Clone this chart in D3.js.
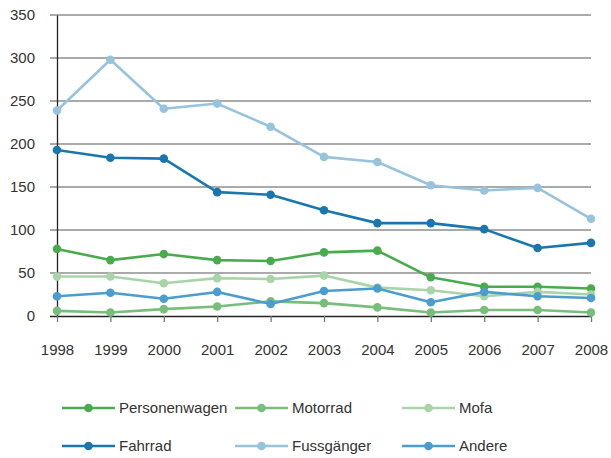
<!DOCTYPE html>
<html>
<head>
<meta charset="utf-8">
<script src="https://cdn.jsdelivr.net/npm/d3@7"></script>
<style>
  html, body { margin: 0; padding: 0; background: #fff; }
  svg { display: block; font-family: "Liberation Sans", Arial, sans-serif; }
</style>
</head>
<body>
<svg id="chart" width="611" height="458"></svg>
<script>
// Jahre und Werte je Verkehrsteilnehmer
const years = [1998, 1999, 2000, 2001, 2002, 2003, 2004, 2005, 2006, 2007, 2008];
const yTicks = [0, 50, 100, 150, 200, 250, 300, 350];

const personenwagen = [78, 65, 72, 65, 64, 74, 76, 45, 34, 34, 32];
const motorrad      = [6, 4, 8, 11, 17, 15, 10, 4, 7, 7, 4];
const mofa          = [46, 46, 38, 44, 43, 47, 33, 30, 23, 28, 25];
const fahrrad       = [193, 184, 183, 144, 141, 123, 108, 108, 101, 79, 85];
const fussgaenger   = [239, 298, 241, 247, 220, 185, 179, 152, 146, 149, 113];
const andere        = [23, 27, 20, 28, 14, 29, 32, 16, 28, 23, 21];

const seriesNames  = ["Personenwagen", "Motorrad", "Mofa", "Fahrrad", "Fussgänger", "Andere"];
const seriesValues = [personenwagen, motorrad, mofa, fahrrad, fussgaenger, andere];
const seriesColors = ["#4aab4e", "#78bd7a", "#a9d4a8", "#1a77ae", "#97c3dc", "#4b9ccf"];

const series = seriesNames.map((name, i) => ({ name, values: seriesValues[i], color: seriesColors[i] }));

// Zeichenreihenfolge: hintere Linien zuerst
const drawOrder = ["Fussgänger", "Fahrrad", "Personenwagen", "Mofa", "Motorrad", "Andere"];

const svg = d3.select("#chart");
const plotLeft = 57, plotRight = 591, plotTop = 15, plotBottom = 316;

const x = d3.scalePoint().domain(years).range([plotLeft, plotRight]);
const y = d3.scaleLinear().domain([0, 350]).range([plotBottom, plotTop]);

// Gitterlinien
svg.append("g")
  .selectAll("line")
  .data(yTicks.filter(t => t > 0))
  .join("line")
  .attr("x1", plotLeft - 7).attr("x2", plotRight)
  .attr("y1", d => y(d)).attr("y2", d => y(d))
  .attr("stroke", "#8e8e8e").attr("stroke-width", 1.3);

// y-Achse
const yAxis = svg.append("g")
  .attr("transform", `translate(${plotLeft},0)`)
  .call(d3.axisLeft(y).tickValues(yTicks).tickSize(0).tickPadding(22));
yAxis.select(".domain").attr("stroke", "#222").attr("stroke-width", 1.3);
yAxis.selectAll("text").attr("font-size", 15).attr("fill", "#333")
  .attr("font-family", "Liberation Sans, Arial, sans-serif");

// x-Achse
const xAxis = svg.append("g")
  .attr("transform", `translate(0,${plotBottom})`)
  .call(d3.axisBottom(x).tickSize(6).tickPadding(22).tickFormat(d3.format("d")));
xAxis.select(".domain").attr("d", `M${plotLeft - 7},0.5H${plotRight}`).attr("stroke", "#222").attr("stroke-width", 1.3);
xAxis.selectAll(".tick line").attr("stroke", "#777").attr("stroke-width", 1.3);
xAxis.selectAll("text").attr("font-size", 15).attr("fill", "#333")
  .attr("font-family", "Liberation Sans, Arial, sans-serif");

// Linien und Punkte
const line = d3.line().x((d, i) => x(years[i])).y(d => y(d));
const plot = svg.append("g");
drawOrder.forEach(name => {
  const s = series.find(d => d.name === name);
  const g = plot.append("g");
  g.append("path")
    .attr("d", line(s.values))
    .attr("fill", "none")
    .attr("stroke", s.color)
    .attr("stroke-width", 2.6)
    .attr("stroke-linejoin", "round");
  g.selectAll("circle")
    .data(s.values)
    .join("circle")
    .attr("cx", (d, i) => x(years[i]))
    .attr("cy", d => y(d))
    .attr("r", 4.3)
    .attr("fill", s.color);
});

// Legende
const legendX = [62, 235, 402];
const legendY = [408, 446];
const legend = svg.append("g");
series.forEach((s, i) => {
  const lx = legendX[i % 3], ly = legendY[Math.floor(i / 3)];
  const g = legend.append("g").attr("transform", `translate(${lx},${ly})`);
  g.append("line").attr("x1", 0).attr("x2", 53).attr("y1", 0).attr("y2", 0)
    .attr("stroke", s.color).attr("stroke-width", 2.6);
  g.append("circle").attr("cx", 26.5).attr("cy", 0).attr("r", 4.3).attr("fill", s.color);
  g.append("text").attr("x", 57).attr("y", 0).attr("dy", "0.35em")
    .attr("font-size", 15).attr("fill", "#333").text(s.name);
});
</script>
</body>
</html>
